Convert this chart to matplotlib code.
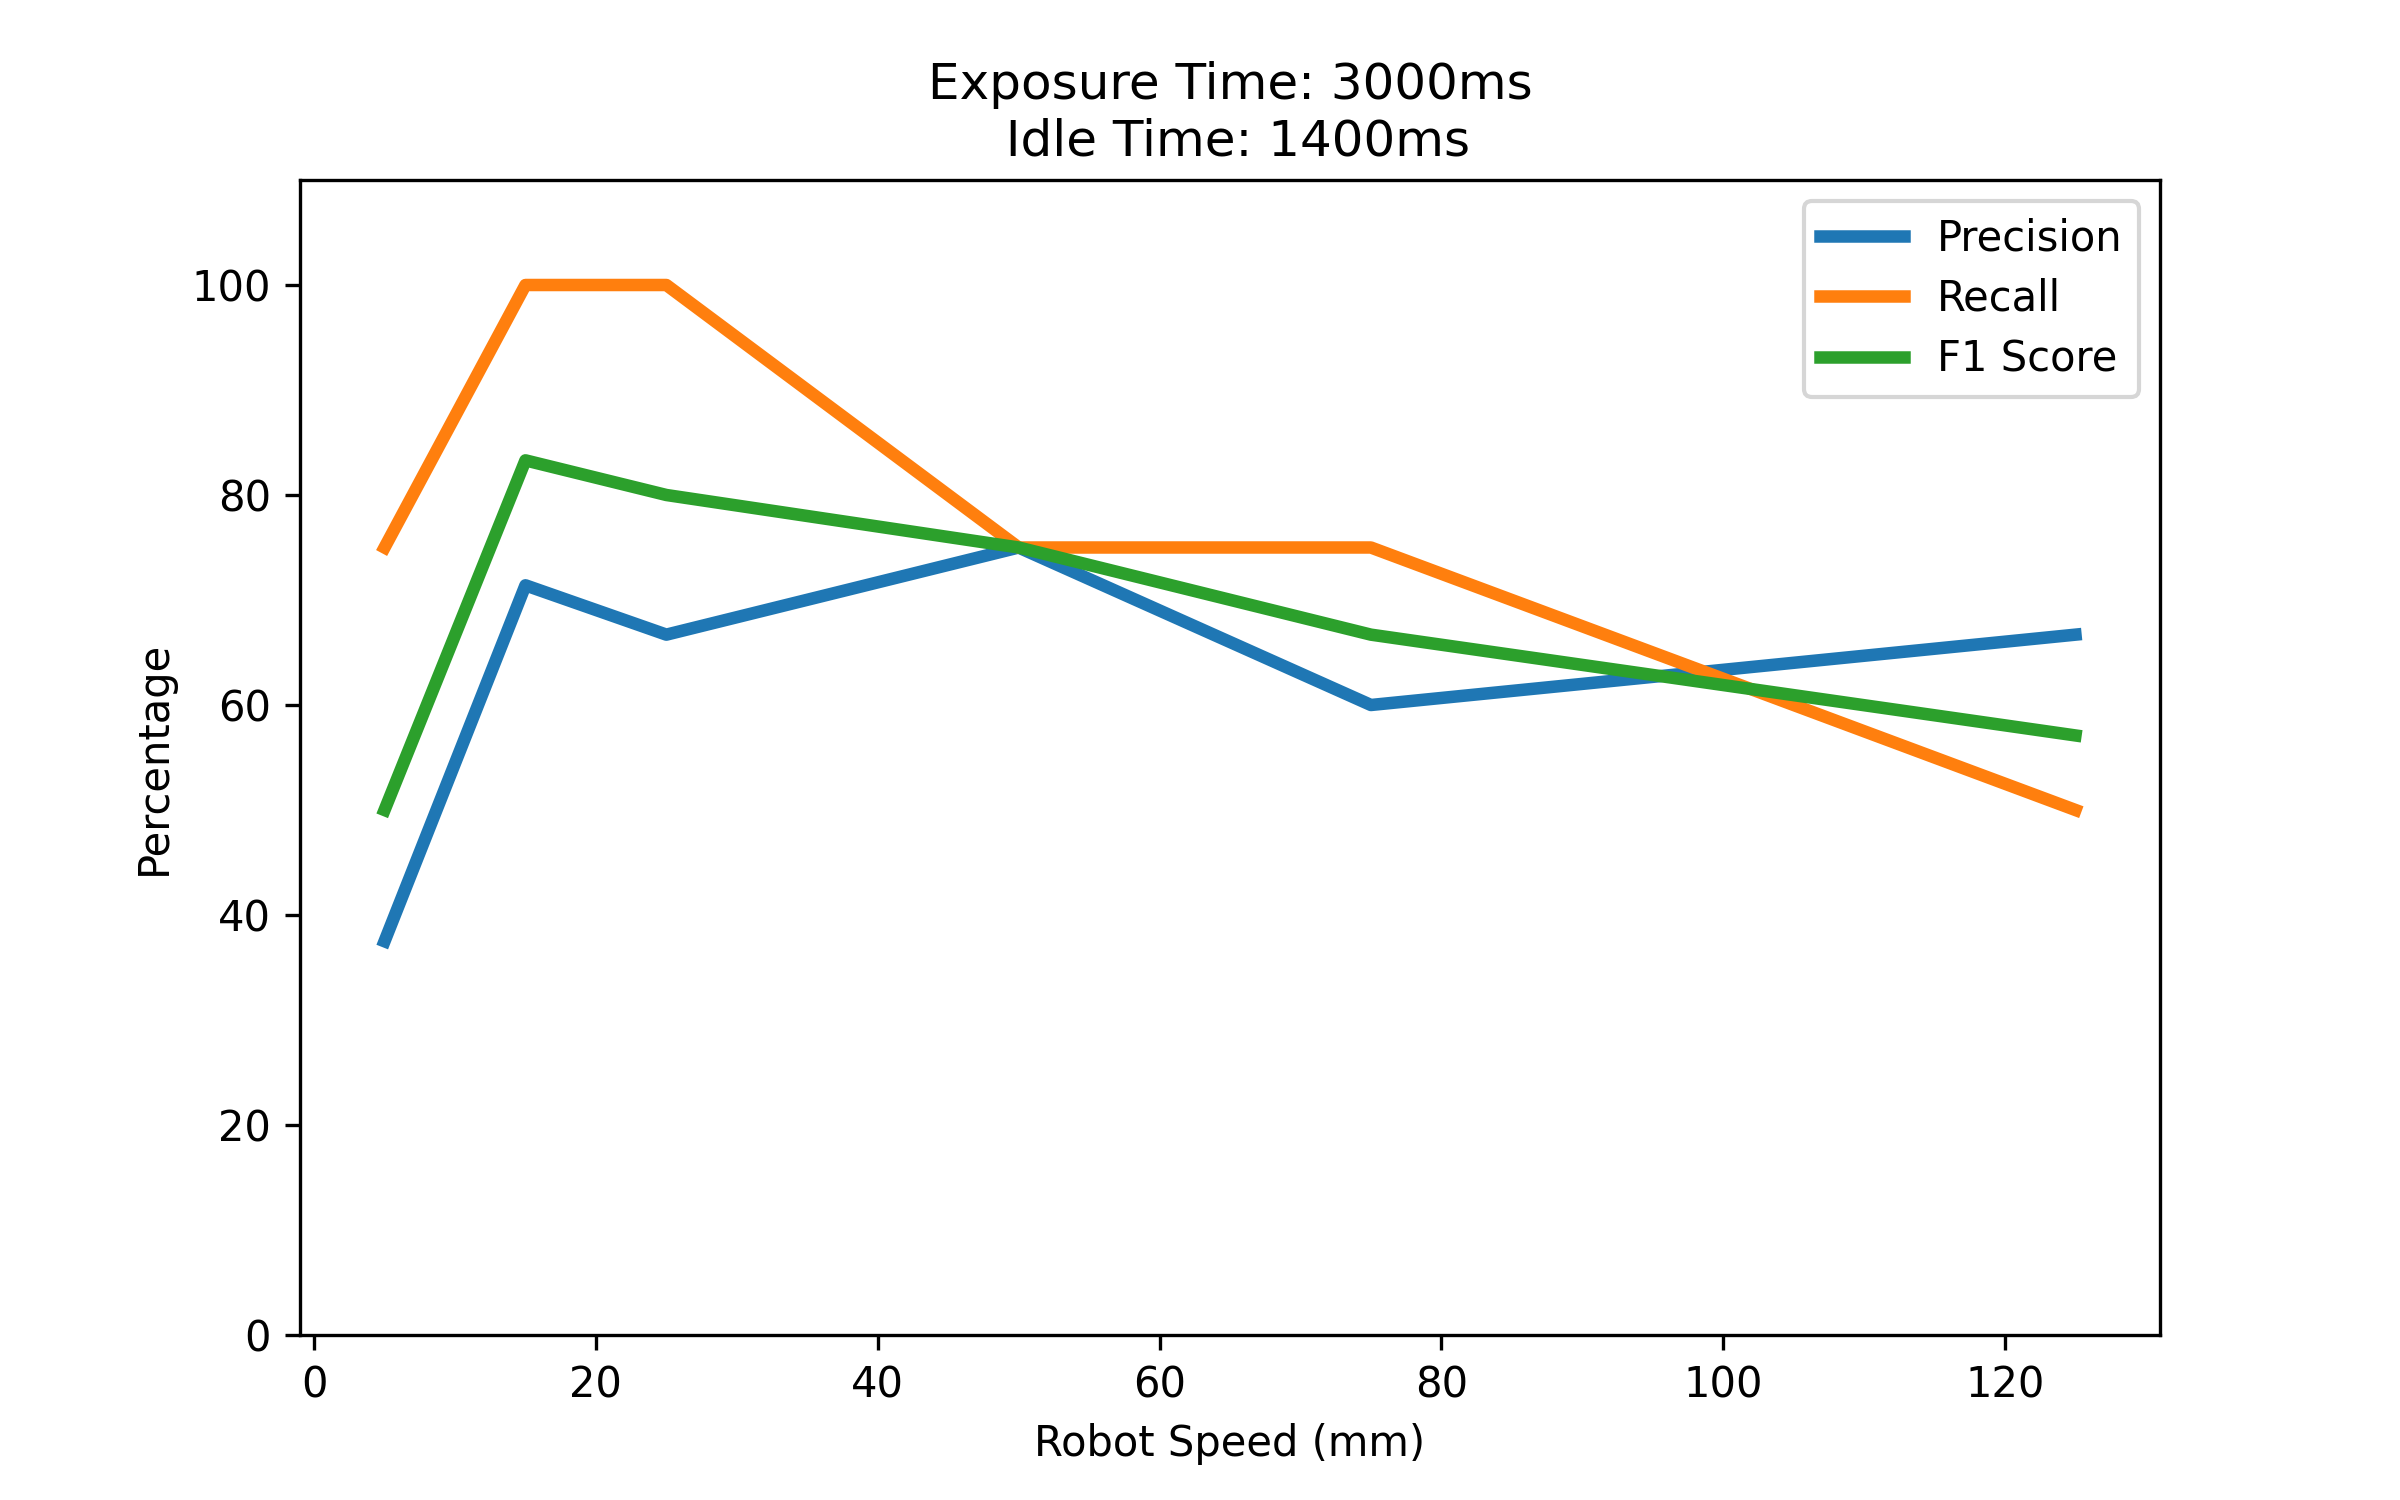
import matplotlib
matplotlib.use("Agg")
import matplotlib.pyplot as plt

speeds = [5, 15, 25, 50, 75, 125]
precision = [37.5, 71.4, 66.7, 75.0, 60.0, 66.7]
recall = [75.0, 100.0, 100.0, 75.0, 75.0, 50.0]
f1 = [50.0, 83.3, 80.0, 75.0, 66.7, 57.1]

fig, ax = plt.subplots(figsize=(8, 5), dpi=300)
ax.plot(speeds, precision, linewidth=3, label="Precision")
ax.plot(speeds, recall, linewidth=3, label="Recall")
ax.plot(speeds, f1, linewidth=3, label="F1 Score")
ax.set_ylim(0, 110)
ax.set_xlabel("Robot Speed (mm)")
ax.set_ylabel("Percentage")
ax.set_title("Exposure Time: 3000ms\n Idle Time: 1400ms")
ax.legend(loc="upper right", labelspacing=0.44)
fig.savefig("out.png", dpi=300)
